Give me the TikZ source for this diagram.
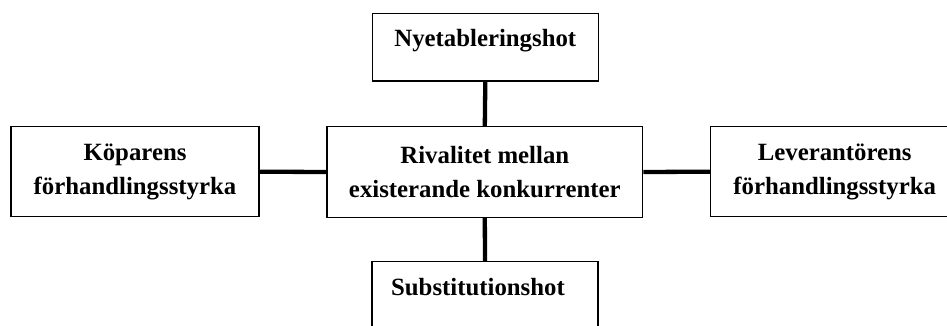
\documentclass[tikz,border=0pt]{standalone}
\usepackage{fontspec}
\setmainfont{Liberation Serif}
\tikzset{
    forcebox/.style={draw, line width=1.3pt, inner sep=0pt, align=center,
        font=\bfseries\fontsize{24.8}{34.5}\selectfont},
    lonebox/.style={forcebox, minimum width=226pt, text height=33.4pt, text depth=34.3pt},
    pairbox/.style={forcebox, minimum width=248pt, minimum height=90pt},
    link/.style={line width=4.3pt}
}
\begin{document}
\begin{tikzpicture}[x=1pt, y=-1pt]
    % Sidans ram (bild 947 x 326)
    \useasboundingbox (0, 0) rectangle (947, 326);
    \clip (0, 0) rectangle (947, 326);

    % 1. Rutorna
    \node[pairbox, minimum width=315.7pt, minimum height=90.6pt] (rival) at (484.8, 172) {Rivalitet mellan\\existerande konkurrenter};
    \node[lonebox] (nya) at (485.3, 47.2) {Nyetableringshot};
    \node[lonebox] (subst) at (485, 295.5) {Substitutionshot\hspace*{14pt}};
    \node[pairbox] (kopare) at (135, 171.7) {Köparens\\förhandlingsstyrka};
    \node[pairbox] (leverantor) at (834.7, 171.7) {Leverantörens\\förhandlingsstyrka};

    % 2. Förbindelser
    \draw[link] (nya.south) -- (rival.north);
    \draw[link] (rival.south) -- (subst.north);
    \draw[link] (kopare.east) -- (rival.west);
    \draw[link] (rival.east) -- (leverantor.west);

\end{tikzpicture}
\end{document}
